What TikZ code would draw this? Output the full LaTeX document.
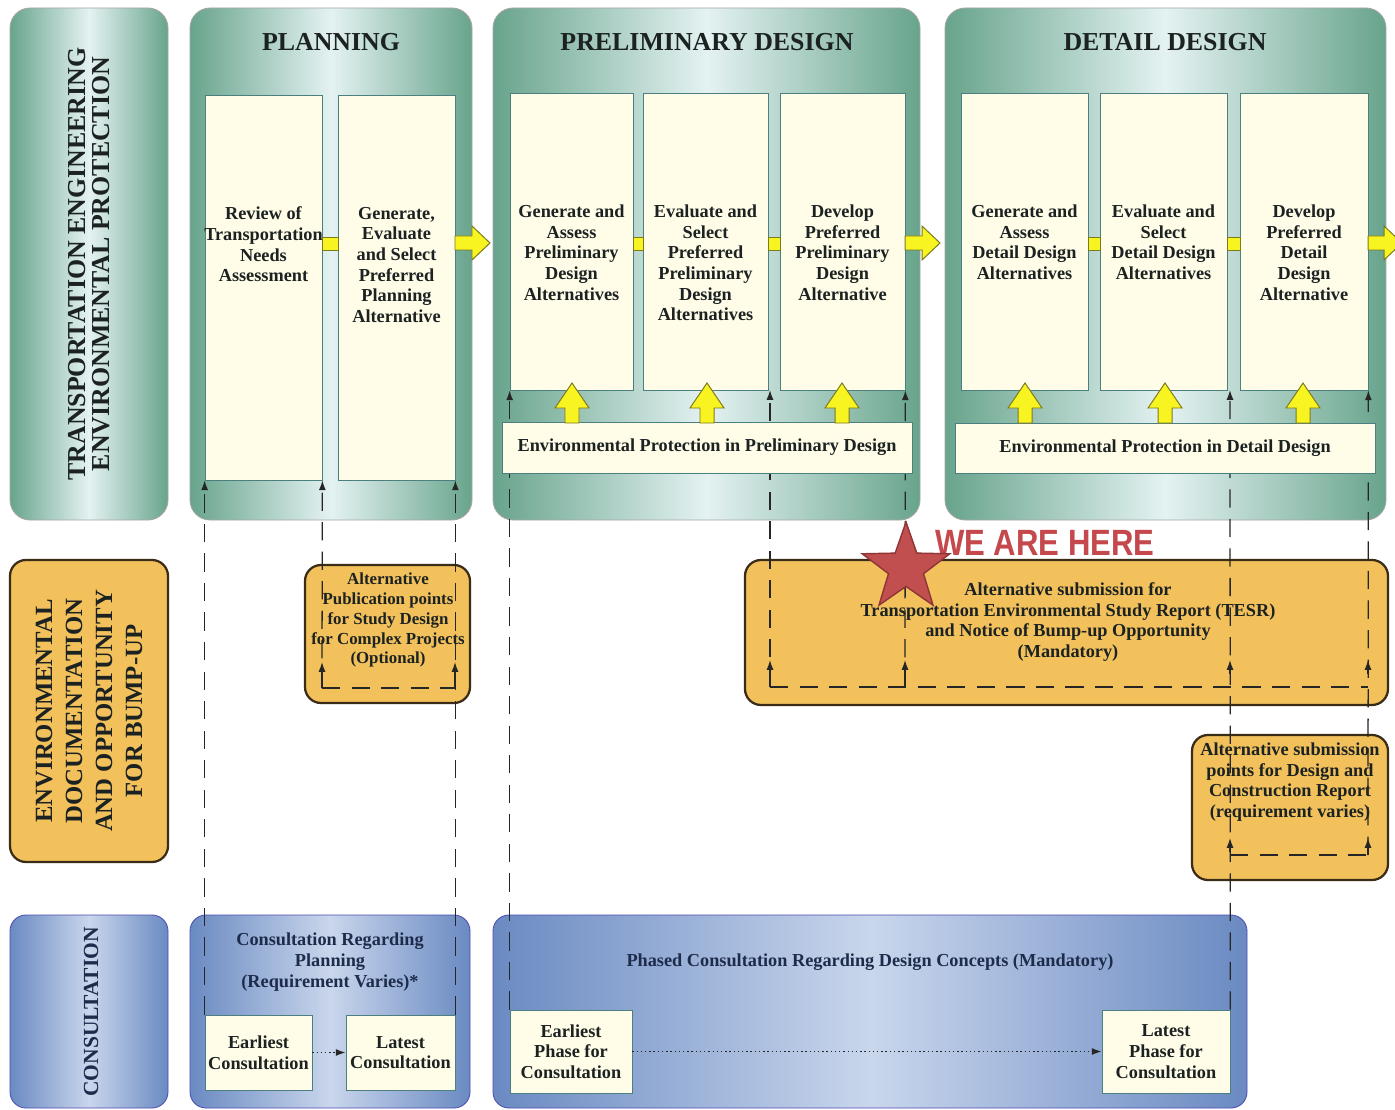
\documentclass[tikz,border=0pt]{standalone}
\usepackage{fontspec}
\setmainfont{Liberation Serif}
\newfontfamily\herefont{Liberation Sans}[FakeStretch=0.85]
\usetikzlibrary{positioning,fit,shapes.geometric,arrows.meta}

\definecolor{tealD}{HTML}{68A48C}
\definecolor{tealL}{HTML}{E4F2F2}
\definecolor{cream}{HTML}{FFFDE8}
\definecolor{orng}{HTML}{F2C15C}
\definecolor{brwn}{HTML}{3A2C16}
\definecolor{blueD}{HTML}{6A8AC2}
\definecolor{blueL}{HTML}{C9D6EC}
\definecolor{yel}{HTML}{F8F422}
\definecolor{yelD}{HTML}{7D7A1E}
\definecolor{starR}{HTML}{C24F4F}
\definecolor{starD}{HTML}{8E3535}
\definecolor{hereR}{HTML}{C4484C}
\definecolor{ink}{HTML}{1C2222}
\definecolor{navy}{HTML}{1E2C4C}

\tikzset{
    phase/.style={inner sep=0, draw=gray!70, line width=0.6pt, rounded corners=5mm,
        left color=tealD, right color=tealD, middle color=tealL},
    obox/.style={inner sep=0, draw=brwn, line width=1.6pt, rounded corners=4mm, fill=orng},
    bbox/.style={inner sep=0, draw=gray!60!blue, line width=0.6pt, rounded corners=4mm,
        left color=blueD, right color=blueD, middle color=blueL},
    cbox/.style={inner sep=0, draw=gray!60!teal, line width=0.5pt, fill=cream},
    txt/.style={inner sep=0, align=center, text=ink, font=\bfseries\fontsize{13}{14.7}\selectfont},
    ttl/.style={inner sep=0, text=ink, font=\bfseries\fontsize{18.4}{20}\selectfont},
    rothead/.style={inner sep=0, rotate=90, align=center, text=ink},
    dline/.style={dash pattern=on 13pt off 8pt, line width=0.9pt, black!85},
    dotarr/.style={dotted, line width=1pt, black!85, ->},
    yarr/.style={fill=yel, draw=yelD, line width=0.7pt, line join=miter}
}

\begin{document}
\begin{tikzpicture}[x=0.025cm, y=-0.025cm, >={Latex[length=7pt, width=5pt]}]
    % 1. Page frame
    \useasboundingbox (0,0) rectangle (1395,1110);
    \fill[white] (0,0) rectangle (1395,1110);

    % 2. Row headers
    \node (hdr) [phase, fit={(10,8) (168,520)}] {};
    \node (doc) [obox, fit={(10,560) (168,862)}] {};
    \node (cons) [bbox, fit={(10,915) (168,1108)}] {};
    \node (hdrT) [rothead, font=\bfseries\fontsize{18.4}{17}\selectfont] at (hdr.center)
        {TRANSPORTATION ENGINEERING\\ENVIRONMENTAL PROTECTION};
    \node (docT) [rothead, font=\bfseries\fontsize{17.6}{21.3}\selectfont] at (doc.center)
        {ENVIRONMENTAL\\DOCUMENTATION\\AND OPPORTUNITY\\FOR BUMP-UP};
    \node (consT) [rothead, text=navy, font=\bfseries\fontsize{15.3}{16}\selectfont] at (91,1012)
        {CONSULTATION};

    % 3. Phase boxes and titles
    \node (plan) [phase, fit={(190,8) (472,520)}] {};
    \node (prel) [phase, fit={(493,8) (920,520)}] {};
    \node (det) [phase, fit={(945,8) (1386,520)}] {};
    \node (planT) [ttl] at (331,42) {PLANNING};
    \node (prelT) [ttl] at (707,42) {PRELIMINARY DESIGN};
    \node (detT) [ttl] at (1165,42) {DETAIL DESIGN};

    % 4. Step boxes
    \node (p1) [cbox, fit={(205,95) (322,480)}] {};
    \node (p2) [cbox, fit={(338,95) (455,480)}] {};
    \node (pr1) [cbox, fit={(510,93) (633,390)}] {};
    \node (pr2) [cbox, fit={(643,93) (768,390)}] {};
    \node (pr3) [cbox, fit={(780,93) (905,390)}] {};
    \node (dd1) [cbox, fit={(961,93) (1088,390)}] {};
    \node (dd2) [cbox, fit={(1100,93) (1227,390)}] {};
    \node (dd3) [cbox, fit={(1240,93) (1368,390)}] {};

    \node (p1t) [txt, below=2.8cm of p1.north] {Review of\\Transportation\\Needs\\Assessment};
    \node (p2t) [txt, below=2.8cm of p2.north] {Generate,\\Evaluate\\and Select\\Preferred\\Planning\\Alternative};
    \node (pr1t) [txt, below=2.8cm of pr1.north] {Generate and\\Assess\\Preliminary\\Design\\Alternatives};
    \node (pr2t) [txt, below=2.8cm of pr2.north] {Evaluate and\\Select\\Preferred\\Preliminary\\Design\\Alternatives};
    \node (pr3t) [txt, below=2.8cm of pr3.north] {Develop\\Preferred\\Preliminary\\Design\\Alternative};
    \node (dd1t) [txt, below=2.8cm of dd1.north] {Generate and\\Assess\\Detail Design\\Alternatives};
    \node (dd2t) [txt, below=2.8cm of dd2.north] {Evaluate and\\Select\\Detail Design\\Alternatives};
    \node (dd3t) [txt, below=2.8cm of dd3.north] {Develop\\Preferred\\Detail\\Design\\Alternative};

    % 5. Yellow links between steps and phases
    \foreach \a/\b in {322/338, 633/643, 768/780, 1088/1100, 1227/1240}
        \filldraw[yarr] (\a,237) rectangle (\b,250);
    \foreach \a/\b in {455/490, 905/940, 1368/1402}
        \filldraw[yarr] (\a,236) -- (\b-18,236) -- (\b-18,226) -- (\b,243)
            -- (\b-18,260) -- (\b-18,250) -- (\a,250) -- cycle;

    % 6. Documentation boxes
    \node (pub) [obox, fit={(305,565) (470,703)}] {};
    \node (tesr) [obox, fit={(745,560) (1388,705)}] {};
    \node (dcr) [obox, fit={(1192,735) (1388,880)}] {};
    \node (pubT) [txt, font=\bfseries\fontsize{12}{14.2}\selectfont] at (388,620)
        {Alternative\\Publication points\\for Study Design\\for Complex Projects\\(Optional)};
    \node (tesrT) [txt] at (1068,622)
        {Alternative submission for\\Transportation Environmental Study Report (TESR)\\and Notice of Bump-up Opportunity\\(Mandatory)};
    \node (dcrT) [txt] at (1290,782)
        {Alternative submission\\points for Design and\\Construction Report\\(requirement varies)};

    % 7. Consultation boxes
    \node (cplan) [bbox, fit={(190,915) (470,1108)}] {};
    \node (cdes) [bbox, fit={(493,915) (1247,1108)}] {};
    \node (cplanT) [txt, text=navy] at (330,962) {Consultation Regarding\\Planning\\(Requirement Varies)*};
    \node (cdesT) [txt, text=navy] at (870,962) {Phased Consultation Regarding Design Concepts (Mandatory)};
    \node (ec) [cbox, fit={(205,1015) (312,1090)}] {};
    \node (lc) [cbox, fit={(346,1015) (455,1090)}] {};
    \node (ep) [cbox, fit={(510,1010) (632,1093)}] {};
    \node (lp) [cbox, fit={(1102,1010) (1230,1093)}] {};
    \node (ecT) [txt] at (ec.center) {Earliest\\Consultation};
    \node (lcT) [txt] at (lc.center) {Latest\\Consultation};
    \node (epT) [txt] at (ep.center) {Earliest\\Phase for\\Consultation};
    \node (lpT) [txt] at (lp.center) {Latest\\Phase for\\Consultation};
    \draw[dotarr] (ec) -- (lc);
    \draw[dotarr] (ep) -- (lp);

    % 8. Dashed submission lines
    \coordinate (pubL) at (322,688);
    \coordinate (pubR) at (455,688);
    \coordinate (pubLa) at (322,662);
    \coordinate (pubRa) at (455,662);
    \coordinate (tA) at (770,687);
    \coordinate (tB) at (905,687);
    \coordinate (tC) at (1230,687);
    \coordinate (tD) at (1368,687);
    \coordinate (tAa) at (770,660);
    \coordinate (tBa) at (905,660);
    \coordinate (tCa) at (1230,660);
    \coordinate (tDa) at (1368,660);
    \coordinate (g1) at (770,390);
    \coordinate (g2) at (1230,390);
    \coordinate (dA) at (1230,855);
    \coordinate (dB) at (1368,855);
    \coordinate (dAa) at (1230,838);
    \coordinate (dBa) at (1368,838);

    \draw[dline, ->] (ec.north west) -- (p1.south west);
    \draw[dline, ->] (lc.north east) -- (p2.south east);
    \draw[dline, ->] (pubL) -- (p1.south east);
    \draw[dline] (pubL) -- (pubR);
    \draw[dline, ->] (pubL) -- (pubLa);
    \draw[dline, ->] (pubR) -- (pubRa);

    \draw[dline, ->] (ep.north west) -- (pr1.south west);
    \draw[dline] (tA) -- (tD);
    \draw[dline, ->] (tA) -- (g1);
    \draw[dline, ->] (tA) -- (tAa);
    \draw[dline, ->] (tB) -- (pr3.south east);
    \draw[dline, ->] (tB) -- (tBa);
    \draw[dline, ->] (lp.north east) -- (g2);
    \draw[black!85, line width=0.9pt, ->] (tCa) ++(0,14) -- (tCa);
    \draw[black!85, line width=0.9pt, ->] (tDa) ++(0,14) -- (tDa);
    \draw[dline] (dA) -- (dB);
    \draw[dline, ->] (dB) -- (dd3.south east);
    \draw[black!85, line width=0.9pt, ->] (dAa) ++(0,14) -- (dAa);
    \draw[dline, ->] (dB) -- (dBa);

    % 9. Environmental protection bars and up arrows
    \node (envp) [cbox, fit={(502,422) (912,473)}] {};
    \node (envd) [cbox, fit={(955,423) (1375,473)}] {};
    \node (envpT) [txt] at (envp.center) {Environmental Protection in Preliminary Design};
    \node (envdT) [txt] at (envd.center) {Environmental Protection in Detail Design};
    \foreach \x in {572,707,842,1025,1165,1303}
        \filldraw[yarr] (\x-7,423) -- (\x-7,408) -- (\x-17,408) -- (\x,383)
            -- (\x+17,408) -- (\x+7,408) -- (\x+7,423) -- cycle;

    % 10. Marker
    \node (hereT) [anchor=west, inner sep=0, text=hereR, font=\herefont\bfseries\fontsize{26}{26}\selectfont]
        at (935,543) {WE ARE HERE};
    \node (here) [star, star points=5, star point ratio=2.5, minimum size=2.3cm, inner sep=0,
        fill=starR, draw=starD, line width=1pt] at (906,568) {};
\end{tikzpicture}
\end{document}
